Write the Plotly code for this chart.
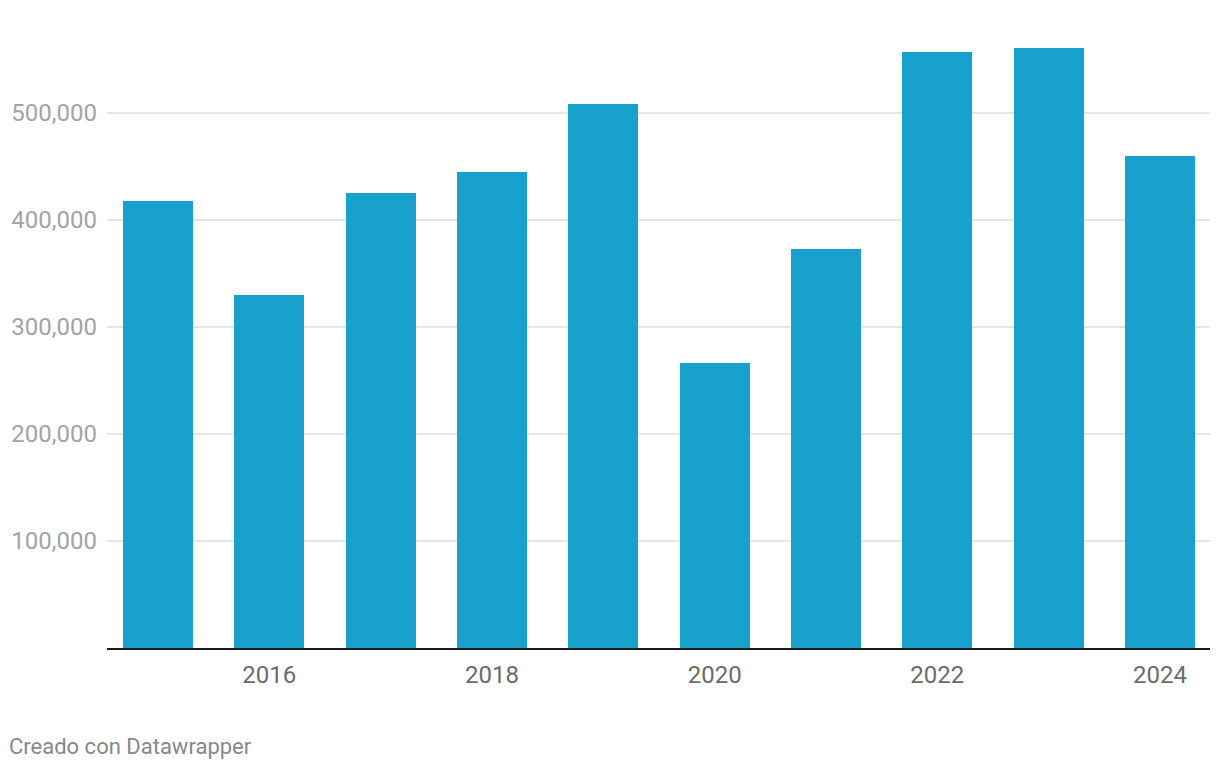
import plotly.graph_objects as go

years = [2015, 2016, 2017, 2018, 2019, 2020, 2021, 2022, 2023, 2024]
values = [418000, 330000, 425500, 445000, 508500, 266500, 373000, 557000, 561000, 460000]
y_ticks = [100000, 200000, 300000, 400000, 500000]
y_tick_labels = ["100,000", "200,000", "300,000", "400,000", "500,000"]
x_ticks = [2016, 2018, 2020, 2022, 2024]
x_tick_labels = ["2016", "2018", "2020", "2022", "2024"]
source_note = "Creado con Datawrapper"

# page has an 8px body margin; size the figure to fit the 1220x770 window
W, H = 1212, 762
ml, mr, mt, mb = 99, 10, 32, 122
plot_h = H - mt - mb
plot_w = W - ml - mr

fig = go.Figure()
fig.add_trace(go.Bar(
    x=years, y=values,
    marker=dict(color="#18a1cd", line=dict(width=0)),
    width=0.629,
    hoverinfo="x+y",
))

fig.update_layout(
    width=W, height=H,
    margin=dict(l=ml, r=mr, t=mt, b=mb, pad=0, autoexpand=False),
    paper_bgcolor="white", plot_bgcolor="white",
    font=dict(family="Roboto", size=22),
    showlegend=False,
    bargap=0,
    xaxis=dict(
        range=[2014.542, 2024.449],
        automargin=False,
        tickmode="array", tickvals=x_ticks, ticktext=x_tick_labels,
        showgrid=False, zeroline=False,
        showline=True, linecolor="#1a1a1a", linewidth=2,
        ticks="", tickfont=dict(color="#6b6b6b", size=24),
        ticklabelstandoff=4,
    ),
    yaxis=dict(
        range=[0, plot_h / 107 * 100000],
        automargin=False,
        tickmode="array", tickvals=y_ticks, ticktext=y_tick_labels,
        showgrid=True, gridcolor="#e5e5e5", gridwidth=2,
        zeroline=False, showline=False, ticks="",
        tickfont=dict(color="#a3a3a3", size=24),
        ticklabelstandoff=9,
    ),
    annotations=[dict(
        text=source_note, xref="paper", yref="paper",
        x=(-1 - ml) / plot_w, y=(H - mb - 738) / plot_h,
        xanchor="left", yanchor="middle", showarrow=False,
        font=dict(family="Roboto", size=22, color="#888888"),
    )],
)

fig.write_html("out.html")
